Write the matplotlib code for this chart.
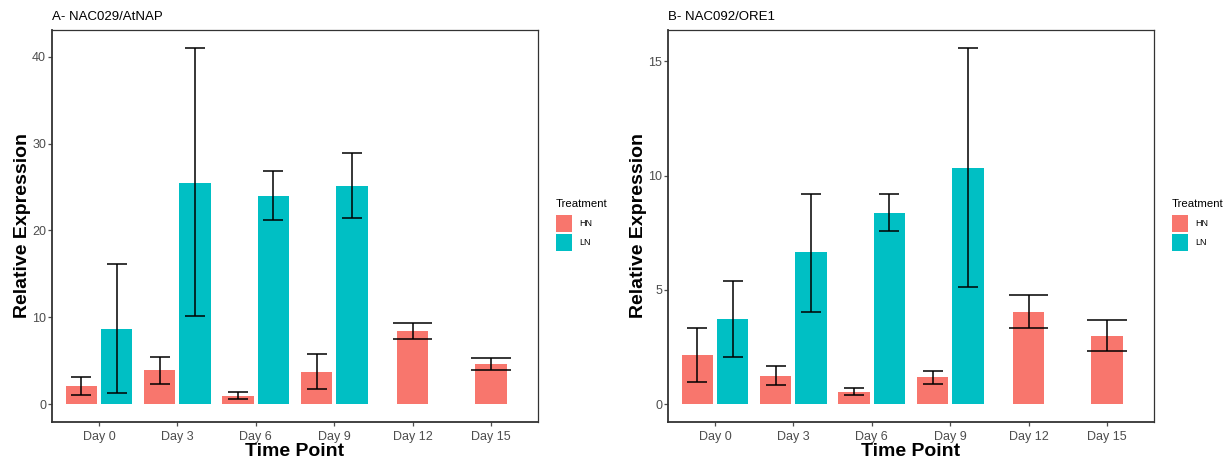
import numpy as np
import matplotlib
matplotlib.use("Agg")
import matplotlib.pyplot as plt
from matplotlib.patches import Patch

plt.rcParams['font.family'] = ['Liberation Sans', 'DejaVu Sans']

days = ["Day 0", "Day 3", "Day 6", "Day 9", "Day 12", "Day 15"]
treatments = ["HN", "LN"]
colors = {"HN": "#F8766D", "LN": "#00BFC4"}

# Panel A: NAC029/AtNAP
a_hn = [2.07, 3.91, 1.00, 3.72, 8.43, 4.60]
a_hn_lo = [1.03, 2.38, 0.57, 1.80, 7.51, 3.94]
a_hn_hi = [3.14, 5.40, 1.38, 5.79, 9.35, 5.36]
a_ln = [8.70, 25.48, 24.02, 25.17, np.nan, np.nan]
a_ln_lo = [1.34, 10.11, 21.19, 21.49, np.nan, np.nan]
a_ln_hi = [16.13, 41.03, 26.86, 28.89, np.nan, np.nan]

# Panel B: NAC092/ORE1
b_hn = [2.14, 1.25, 0.54, 1.18, 4.03, 3.00]
b_hn_lo = [0.99, 0.86, 0.38, 0.90, 3.32, 2.31]
b_hn_hi = [3.33, 1.67, 0.70, 1.47, 4.76, 3.70]
b_ln = [3.74, 6.64, 8.38, 10.33, np.nan, np.nan]
b_ln_lo = [2.08, 4.03, 7.58, 5.12, np.nan, np.nan]
b_ln_hi = [5.40, 9.21, 9.21, 15.59, np.nan, np.nan]

W, H = 1230, 466
fig = plt.figure(figsize=(W / 100, H / 100), dpi=100)


def px_axes(l, r, t, b):
    return fig.add_axes([l / W, 1 - b / H, (r - l) / W, (b - t) / H])


def panel(ax, title, hn, hn_lo, hn_hi, ln, ln_lo, ln_hi, yticks, ylim):
    n = len(days)
    bw = 0.4
    off = 0.225
    for i in range(n):
        pair = not np.isnan(ln[i])
        series = [("HN", hn[i], hn_lo[i], hn_hi[i], -off if pair else 0.0)]
        if pair:
            series.append(("LN", ln[i], ln_lo[i], ln_hi[i], off))
        for name, v, lo, hi, o in series:
            x = i + o
            ax.bar(x, v, width=bw, color=colors[name], edgecolor='none', zorder=2)
            cw = 0.127 if pair else 0.25
            ax.vlines(x, lo, hi, color='black', lw=1.1, zorder=3)
            ax.hlines([lo, hi], x - cw, x + cw, color='black', lw=1.1, zorder=3)
    ax.set_xlim(-0.6, n - 1 + 0.6)
    ax.set_ylim(*ylim)
    ax.set_xticks(range(n))
    ax.set_xticklabels(days)
    ax.set_yticks(yticks)
    ax.tick_params(axis='both', colors='#4D4D4D', labelsize=9, length=2.9, width=0.9)
    ax.tick_params(axis='x', pad=3.5)
    ax.tick_params(axis='y', pad=1.3)
    for s in ax.spines.values():
        s.set_color('#333333')
        s.set_linewidth(0.9)
    ax.spines['left'].set_linewidth(1.3)
    ax.spines['bottom'].set_linewidth(1.3)
    ax.set_xlabel("Time Point", fontsize=14, fontweight='bold', labelpad=0)
    ax.set_ylabel("Relative Expression", fontsize=14, fontweight='bold', labelpad=1)
    ax.set_title(title, loc='left', fontsize=9.5, pad=7)


axA = px_axes(52, 538, 30, 422)
panel(axA, "A- NAC029/AtNAP", a_hn, a_hn_lo, a_hn_hi, a_ln, a_ln_lo, a_ln_hi,
      [0, 10, 20, 30, 40], (-2.05, 43.08))
axB = px_axes(668, 1154, 30, 422)
panel(axB, "B- NAC092/ORE1", b_hn, b_hn_lo, b_hn_hi, b_ln, b_ln_lo, b_ln_hi,
      [0, 5, 10, 15], (-0.78, 16.37))

handles = [Patch(facecolor=colors[t], edgecolor='none') for t in treatments]
for lx in (556, 1172):
    leg = fig.legend(handles, treatments, title="Treatment", loc='upper left',
                     bbox_to_anchor=(lx / W, 1 - 199 / H), frameon=False,
                     fontsize=6.5, title_fontsize=8.2, handlelength=1.8,
                     handleheight=2.55, labelspacing=0.2, handletextpad=0.8,
                     borderpad=0, borderaxespad=0)
    leg._legend_box.align = "left"
    leg._legend_box.sep = 4

fig.savefig("out.png", dpi=100)
